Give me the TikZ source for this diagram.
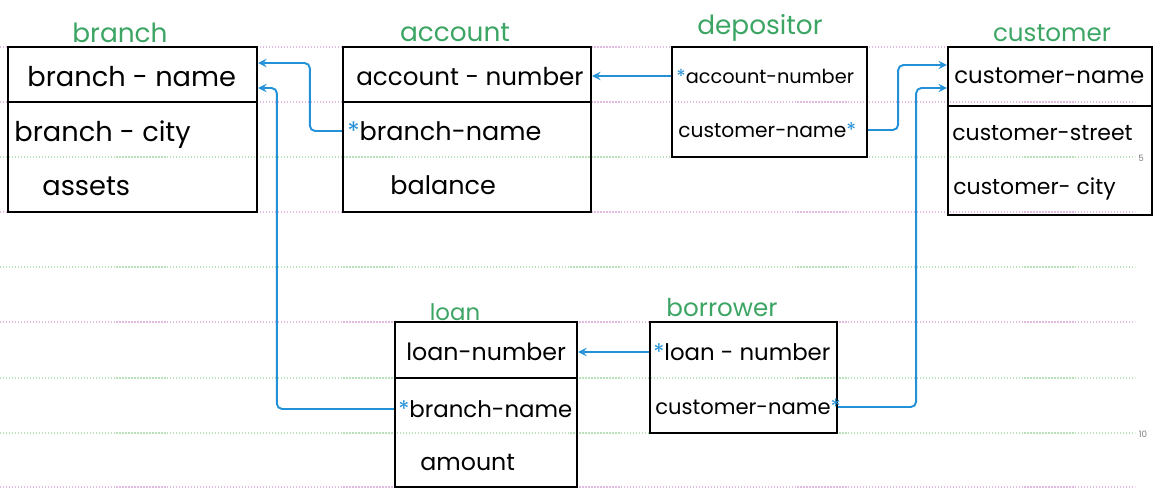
\documentclass[tikz,border=0pt]{standalone}
\usepackage{fontspec}
\setmainfont{Poppins}
\usepackage{xcolor}
\usepackage{tikz}
\usetikzlibrary{calc, fit, arrows}
\definecolor{inkgreen}{RGB}{60,165,100}
\definecolor{inkblue}{RGB}{35,145,215}
\definecolor{rulepink}{RGB}{225,185,225}
\definecolor{rulegreen}{RGB}{185,225,185}
\tikzstyle{table}  = [draw, line width=1.3pt, inner sep=0pt]
\tikzstyle{rowline}= [line width=1.3pt]
\tikzstyle{attr}   = [anchor=west, inner sep=0pt]
\tikzstyle{title}  = [text=inkgreen, inner sep=0pt]
\tikzstyle{arrow}  = [line width=1.1pt, draw=inkblue, ->, >=stealth, rounded corners=3pt]
\tikzstyle{paper}  = [densely dotted, line width=0.7pt]
\newcommand{\fk}{\textcolor{inkblue}{*}}
\newcommand{\fs}[1]{\fontsize{#1}{#1}\selectfont}

\begin{document}
\begin{tikzpicture}[x=0.02cm,y=-0.02cm]
  \useasboundingbox (0,0) rectangle (1159,489);

  % ruled paper
  \foreach \y/\c in {47/rulepink, 102/rulepink, 157/rulegreen, 212/rulepink,
                     267/rulegreen, 322/rulepink, 378/rulegreen, 433/rulegreen, 487/rulepink}
    \draw[paper, \c] (0,\y) -- (1135,\y);
  \node[text=gray, font=\fs{5}] (p5) at (1141,158) {5};
  \node[text=gray, font=\fs{5}] (p10) at (1143,434) {10};

  % branch
  \node[table, fit={(8,47) (257,212)}] (branch) {};
  \draw[rowline] (branch.west |- 0,102) -- (branch.east |- 0,102);
  \node[title, font=\fs{15}] (branch-t) at (120,33) {branch};
  \node[attr, font=\fs{15.5}] (br-name) at (27,77) {branch - name};
  \node[attr, font=\fs{15.5}] (br-city) at (14,135) {branch - city};
  \node[attr, font=\fs{15.5}] (br-assets) at (42,186) {assets};

  % account
  \node[table, fit={(343,47) (591,212)}] (account) {};
  \draw[rowline] (account.west |- 0,102) -- (account.east |- 0,102);
  \node[title, font=\fs{15}] (account-t) at (455,33) {account};
  \node[attr, font=\fs{14}] (ac-num) at (356,77) {account - number};
  \node[attr, font=\fs{14.5}] (ac-bn) at (347,131) {\fk branch-name};
  \node[attr, font=\fs{14.5}] (ac-bal) at (390,185) {balance};

  % depositor
  \node[table, fit={(672,47) (867,157)}] (depositor) {};
  \node[title, font=\fs{15}] (depositor-t) at (760,28) {depositor};
  \node[attr, font=\fs{11}] (de-an) at (676,76) {\fk account-number};
  \node[attr, font=\fs{11.5}] (de-cn) at (678,130) {customer-name\fk};

  % customer
  \node[table, fit={(948,47) (1152,215)}] (customer) {};
  \draw[rowline] (customer.west |- 0,106) -- (customer.east |- 0,106);
  \node[title, font=\fs{14}] (customer-t) at (1052,33) {customer};
  \node[attr, font=\fs{13}] (cu-name) at (954,76) {customer-name};
  \node[attr, font=\fs{12.5}] (cu-street) at (952,133) {customer-street};
  \node[attr, font=\fs{12.5}] (cu-city) at (953,189) {customer- city};

  % loan
  \node[table, fit={(395,322) (577,487)}] (loan) {};
  \draw[rowline] (loan.west |- 0,378) -- (loan.east |- 0,378);
  \node[title, font=\fs{13}] (loan-t) at (455,312) {loan};
  \node[attr, font=\fs{13.5}] (lo-num) at (406,352) {loan-number};
  \node[attr, font=\fs{13}] (lo-bn) at (398,409) {\fk branch-name};
  \node[attr, font=\fs{13.5}] (lo-amt) at (420,462) {amount};

  % borrower
  \node[table, fit={(650,322) (837,433)}] (borrower) {};
  \node[title, font=\fs{14}] (borrower-t) at (722,308) {borrower};
  \node[attr, font=\fs{13}] (bo-ln) at (653,352) {\fk loan - number};
  \node[attr, font=\fs{12}] (bo-cn) at (655,407) {customer-name\fk};

  % foreign keys
  \draw[arrow] (ac-bn -| account.west) -- ++(-32,0) |- (branch.east |- 0,63);
  \draw[arrow] (lo-bn -| loan.west) -- ++(-117,0) |- (branch.east |- 0,88);
  \draw[arrow] (de-an -| depositor.west) -- (de-an -| account.east);
  \draw[arrow] (bo-ln -| borrower.west) -- (bo-ln -| loan.east);
  \draw[arrow] (de-cn -| depositor.east) -- ++(30,0) |- (customer.west |- 0,65);
  \draw[arrow] (bo-cn -| borrower.east) -- ++(78,0) |- (customer.west |- 0,88);
\end{tikzpicture}
\end{document}
